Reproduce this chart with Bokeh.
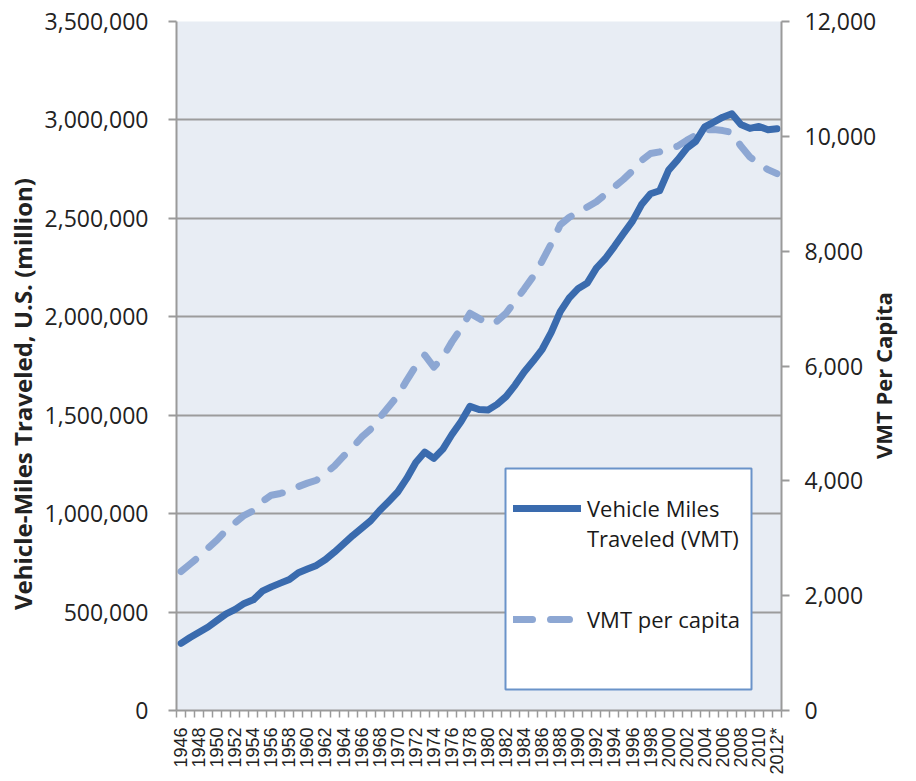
import math
from bokeh.plotting import figure
from bokeh.models import (Range1d, LinearAxis, FixedTicker, NumeralTickFormatter,
                          Legend, LegendItem, BoxAnnotation, ColumnDataSource)
from bokeh.embed import file_html
from bokeh.resources import INLINE

# ---------------- data ----------------
years = list(range(1946, 2013))

vmt_millions = [
    341000, 371000, 398000, 424000, 458000, 491000, 514000, 544000, 562000, 606000,
    628000, 647000, 665000, 700000, 719000, 737000, 767000, 805000, 846000, 888000,
    926000, 964000, 1016000, 1062000, 1110000, 1179000, 1260000, 1313000, 1281000, 1328000,
    1402000, 1467000, 1545000, 1529000, 1527000, 1555000, 1595000, 1653000, 1720000, 1775000,
    1835000, 1921000, 2026000, 2096000, 2144000, 2172000, 2247000, 2296000, 2358000, 2423000,
    2486000, 2570000, 2625000, 2640000, 2745000, 2797000, 2856000, 2891000, 2965000, 2989000,
    3014000, 3031000, 2977000, 2957000, 2967000, 2950000, 2955000,
]

vmt_per_capita = [
    2420, 2550, 2680, 2830, 2970, 3140, 3270, 3400, 3480, 3640,
    3750, 3780, 3820, 3900, 3960, 4010, 4130, 4260, 4430, 4580,
    4760, 4900, 5100, 5290, 5480, 5750, 6000, 6190, 5980, 6150,
    6420, 6650, 6920, 6830, 6730, 6780, 6920, 7130, 7340, 7560,
    7830, 8130, 8460, 8590, 8680, 8770, 8860, 8990, 9120, 9250,
    9400, 9580, 9700, 9730, 9780, 9830, 9930, 10020, 10110, 10120,
    10100, 10070, 9830, 9640, 9520, 9420, 9350,
]

left_ticks = [0, 500000, 1000000, 1500000, 2000000, 2500000, 3000000, 3500000]
right_ticks = [0, 2000, 4000, 6000, 8000, 10000, 12000]
label_years = years[::2]
label_texts = [str(y) for y in label_years[:-1]] + ["2012*"]

left_title = "Vehicle-Miles Traveled, U.S. (million)"
right_title = "VMT Per Capita"
legend_line1 = "Vehicle Miles"
legend_line2 = "Traveled (VMT)"
legend_pc = "VMT per capita"

# ---------------- figure ----------------
SOLID = "#3A6BAE"
DASHED = "#8DA7D3"
AXIS = "#9A9A9A"
TXT = "#222222"
NBSP = "\u00a0"

p = figure(width=916, height=781, output_backend="svg", toolbar_location=None,
           x_range=Range1d(years[0] - 0.5, years[-1] + 0.5),
           y_range=Range1d(left_ticks[0], left_ticks[-1]),
           min_border_left=176, min_border_right=129, min_border_top=21,
           min_border_bottom=71)
p.extra_y_ranges = {"pc": Range1d(right_ticks[0], right_ticks[-1])}

p.background_fill_color = "#E8EDF4"
p.border_fill_color = "white"
p.outline_line_color = None
p.xgrid.visible = False
p.ygrid.ticker = FixedTicker(ticks=left_ticks)
p.ygrid.grid_line_color = "#9C9C9C"
p.ygrid.grid_line_width = 2

# left axis (trailing non-breaking spaces move the centred title a bit lower)
ya = p.yaxis[0]
ya.ticker = FixedTicker(ticks=left_ticks)
ya.formatter = NumeralTickFormatter(format="0,0")
ya.axis_label = left_title + NBSP * 9
ya.axis_label_text_font = "Open Sans"
ya.axis_label_text_font_style = "bold"
ya.axis_label_text_font_size = "24px"
ya.axis_label_text_color = TXT
ya.axis_label_standoff = 3
ya.major_label_text_font = "Open Sans"
ya.major_label_text_font_size = "23px"
ya.major_label_text_color = TXT
ya.major_label_standoff = 20
ya.major_tick_out = 8
ya.major_tick_in = 0
ya.minor_tick_line_color = None
ya.axis_line_color = AXIS
ya.axis_line_width = 2
ya.major_tick_line_color = AXIS
ya.major_tick_line_width = 2

# right axis
ra = LinearAxis(y_range_name="pc", ticker=FixedTicker(ticks=right_ticks),
                formatter=NumeralTickFormatter(format="0,0"))
ra.major_label_text_font = "Open Sans"
ra.major_label_text_font_size = "23px"
ra.major_label_text_color = TXT
ra.major_label_standoff = 15
ra.major_tick_out = 8
ra.major_tick_in = 0
ra.minor_tick_line_color = None
ra.axis_line_color = AXIS
ra.axis_line_width = 2
ra.major_tick_line_color = AXIS
ra.major_tick_line_width = 2
ra.axis_label_text_font = "Open Sans"
ra.axis_label_text_font_style = "bold"
ra.axis_label_text_font_size = "22px"
ra.axis_label_text_color = TXT
ra.axis_label_standoff = 4
props = LinearAxis.properties()
if "axis_label_orientation" in props and "axis_label_align" in props:
    # bottom-to-top text anchored at the bottom of the axis; non-breaking
    # spaces lift the visible words to the middle of the axis
    ra.axis_label_orientation = math.pi / 2
    ra.axis_label_align = "start"
    ra.axis_label = NBSP * 44 + right_title
else:
    ra.axis_label = right_title
p.add_layout(ra, "right")

# bottom axis
xa = p.xaxis[0]
xa.ticker = FixedTicker(ticks=label_years,
                        minor_ticks=[y - 0.5 for y in years] + [years[-1] + 0.5])
xa.major_label_overrides = {y: t for y, t in zip(label_years, label_texts)}
xa.major_label_orientation = math.pi / 2
xa.major_label_text_font = "Liberation Sans"
xa.major_label_text_font_size = "18px"
xa.major_label_text_color = TXT
xa.major_label_standoff = 10
xa.major_tick_out = 0
xa.major_tick_in = 0
xa.major_tick_line_color = None
xa.minor_tick_out = 7
xa.minor_tick_in = 0
xa.minor_tick_line_color = AXIS
xa.minor_tick_line_width = 1.5
xa.axis_line_color = AXIS
xa.axis_line_width = 2

# ---------------- lines ----------------
src = ColumnDataSource(dict(year=years, vmt=vmt_millions, pc=vmt_per_capita))
r_pc = p.line("year", "pc", source=src, y_range_name="pc", line_width=7,
              line_color=DASHED, line_dash="19 18", line_cap="round", line_join="round")
r_vmt = p.line("year", "vmt", source=src, line_width=7, line_color=SOLID,
               line_cap="round", line_join="round")

# ---------------- legend ----------------
box = BoxAnnotation(left=329, right=575, bottom=21, top=242,
                    left_units="screen", right_units="screen",
                    top_units="screen", bottom_units="screen",
                    fill_color="white", fill_alpha=1.0,
                    line_color="#6A93C9", line_width=2, line_alpha=1.0)
p.add_layout(box)

common = dict(margin=0, padding=0, spacing=0, glyph_width=68, glyph_height=30,
              label_height=30, label_standoff=6,
              label_text_font="Open Sans", label_text_font_size="22px",
              label_text_color="#1a1a1a",
              border_line_color=None, background_fill_alpha=0.0)
LEG_X = 337
leg_a = Legend(items=[LegendItem(label=legend_line1, renderers=[r_vmt]),
                      LegendItem(label=legend_line2, renderers=[])],
               location=(LEG_X, 157), **common)
leg_b = Legend(items=[LegendItem(label=legend_pc, renderers=[r_pc])],
               location=(LEG_X, 76), **common)
p.add_layout(leg_a, "center")
p.add_layout(leg_b, "center")

open("out.html", "w").write(file_html(p, INLINE))
